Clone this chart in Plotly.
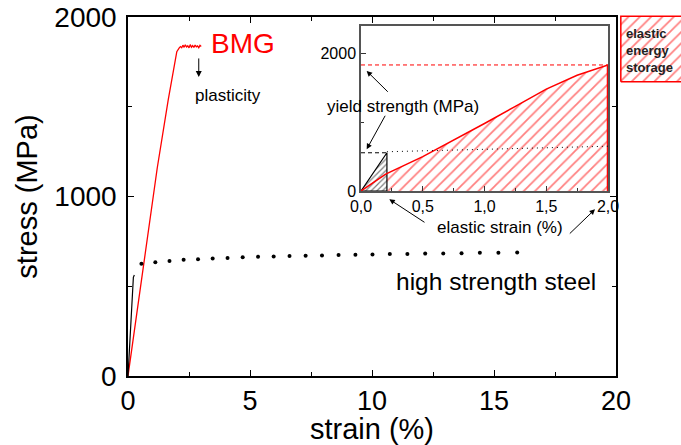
import plotly.graph_objects as go

FONT = "Liberation Sans, Arial, sans-serif"

# ---- main plot data ----
bmg_strain = [0, 0.78, 1.2, 1.65, 1.86, 2.0, 2.1, 2.15, 2.2, 2.25, 2.3, 2.35, 2.4, 2.45, 2.5, 2.55, 2.6, 2.65, 2.7, 2.75, 2.8, 2.85, 2.9, 2.95, 3.0]
bmg_stress = [0, 760, 1160, 1540, 1705, 1807, 1828, 1835, 1829, 1843, 1831, 1845, 1833, 1840, 1828, 1846, 1832, 1841, 1830, 1844, 1834, 1839, 1829, 1842, 1836]

steel_el_strain = [0, 0.22, 0.26]
steel_el_stress = [0, 550, 562]

steel_strain = [0.55, 1.12, 1.70, 2.28, 2.87, 3.47, 4.08, 4.70, 5.33, 5.97, 6.62, 7.28, 7.95, 8.63, 9.32, 10.02, 10.73, 11.45, 12.18, 12.92, 13.67, 14.42, 15.18, 15.95]
steel_stress = [625, 634, 641, 647, 651, 655, 658, 661, 664, 666, 668, 670, 672, 674, 676, 677, 679, 680, 682, 683, 684, 686, 687, 688]

# ---- inset data ----
in_bmg_strain = [0, 0.1, 0.2, 0.5, 0.75, 1.0, 1.25, 1.5, 1.75, 1.9, 2.0]
in_bmg_stress = [0, 125, 245, 500, 735, 980, 1230, 1480, 1680, 1770, 1830]
bmg_yield = 1830
bmg_elastic_limit = 2.0

steel_yield = 555
steel_elastic_limit = 0.21
in_steel_plastic_strain = [0.21, 2.0]
in_steel_plastic_stress = [570, 650]

x_ticks_main = [0, 5, 10, 15, 20]
y_ticks_main = [0, 1000, 2000]
x_ticks_in = [0, 0.5, 1.0, 1.5, 2.0]
x_ticktext_in = ["0,0", "0,5", "1,0", "1,5", "2,0"]
y_ticks_in = [0, 2000]

fig = go.Figure()

# main curves
fig.add_trace(go.Scatter(x=bmg_strain, y=bmg_stress, mode="lines",
                         line=dict(color="red", width=1.3), xaxis="x", yaxis="y"))
fig.add_trace(go.Scatter(x=steel_el_strain, y=steel_el_stress, mode="lines",
                         line=dict(color="black", width=1.2), xaxis="x", yaxis="y"))
fig.add_trace(go.Scatter(x=steel_strain, y=steel_stress, mode="markers",
                         marker=dict(color="black", size=4), xaxis="x", yaxis="y"))

HATCH_RED = dict(shape="/", fgcolor="red", bgcolor="white", size=8, solidity=0.22)

# inset: red hatched area
fig.add_trace(go.Scatter(x=in_bmg_strain, y=in_bmg_stress, mode="lines",
                         line=dict(color="red", width=0), fill="tozeroy",
                         fillcolor="rgba(0,0,0,0)", fillpattern=HATCH_RED,
                         xaxis="x2", yaxis="y2"))
# inset: black hatched triangle
fig.add_trace(go.Scatter(x=[0, steel_elastic_limit, steel_elastic_limit, 0],
                         y=[0, steel_yield, 0, 0], mode="lines",
                         line=dict(color="black", width=1.2), fill="toself",
                         fillcolor="rgba(0,0,0,0)",
                         fillpattern=dict(shape="/", fgcolor="black", bgcolor="white",
                                          size=4, solidity=0.3),
                         xaxis="x2", yaxis="y2"))
fig.add_trace(go.Scatter(x=in_bmg_strain, y=in_bmg_stress, mode="lines",
                         line=dict(color="red", width=1.5), xaxis="x2", yaxis="y2"))
fig.add_trace(go.Scatter(x=[bmg_elastic_limit, bmg_elastic_limit], y=[0, bmg_yield], mode="lines",
                         line=dict(color="red", width=2.5), xaxis="x2", yaxis="y2"))
fig.add_trace(go.Scatter(x=[0, bmg_elastic_limit], y=[bmg_yield, bmg_yield], mode="lines",
                         line=dict(color="red", width=1, dash="4px,3px"), xaxis="x2", yaxis="y2"))
fig.add_trace(go.Scatter(x=[0, steel_elastic_limit], y=[steel_yield, steel_yield], mode="lines",
                         line=dict(color="black", width=1, dash="4px,3px"), xaxis="x2", yaxis="y2"))
fig.add_trace(go.Scatter(x=in_steel_plastic_strain, y=in_steel_plastic_stress, mode="lines",
                         line=dict(color="black", width=1, dash="1px,4px"), xaxis="x2", yaxis="y2"))

# legend-like hatched box
fig.add_trace(go.Scatter(x=[0, 2, 2, 0, 0], y=[0, 0, 1, 1, 0], mode="lines",
                         line=dict(color="red", width=1.5), fill="toself",
                         fillcolor="rgba(0,0,0,0)", fillpattern=HATCH_RED,
                         xaxis="x3", yaxis="y3"))

in_font = dict(family=FONT, size=16, color="black")

fig.update_layout(
    width=681, height=445,
    margin=dict(l=128, r=0, t=15, b=69),
    paper_bgcolor="white", plot_bgcolor="white",
    showlegend=False,
    font=dict(family=FONT, color="black"),
    xaxis=dict(domain=[0, 0.88246], range=[0, 20], tickvals=x_ticks_main, automargin=False,
               ticks="inside", ticklen=6, tickwidth=1.2, tickcolor="black",
               minor=dict(dtick=2.5, ticks="inside", ticklen=4, tickcolor="black"),
               showline=True, linecolor="black", linewidth=1.5, mirror="allticks",
               showgrid=False, zeroline=False, tickfont=dict(family=FONT, size=27, color="black"),
               title=dict(text="strain (%)", font=dict(family=FONT, size=29), standoff=0)),
    yaxis=dict(domain=[0, 0.99446], range=[0, 2000], tickvals=y_ticks_main, automargin=False,
               ticks="inside", ticklen=6, tickwidth=1.2, tickcolor="black",
               minor=dict(dtick=500, ticks="inside", ticklen=4, tickcolor="black"),
               showline=True, linecolor="black", linewidth=1.5, mirror="allticks",
               showgrid=False, zeroline=False, tickfont=dict(family=FONT, size=28, color="black"),
               ticklabelstandoff=4,
               title=dict(text="stress (MPa)", font=dict(family=FONT, size=29), standoff=8)),
    xaxis2=dict(domain=[0.42134, 0.86799], range=[0, 2.0], anchor="y2", automargin=False,
                tickvals=x_ticks_in, ticktext=x_ticktext_in,
                ticks="inside", ticklen=5, tickcolor="#333",
                minor=dict(dtick=0.25, ticks="inside", ticklen=3, tickcolor="#333"),
                showline=True, linecolor="#555", linewidth=1.5, mirror=True,
                showgrid=False, zeroline=False, tickfont=in_font),
    yaxis2=dict(domain=[0.51247, 0.97036], range=[0, 2400], anchor="x2", automargin=False,
                tickvals=y_ticks_in,
                ticks="inside", ticklen=5, tickcolor="#333",
                minor=dict(dtick=1000, ticks="inside", ticklen=3, tickcolor="#333"),
                showline=True, linecolor="#555", linewidth=1.5, mirror=True,
                showgrid=False, zeroline=False, tickfont=in_font),
    xaxis3=dict(domain=[0.8879, 1.0], range=[-0.03, 1], anchor="y3", visible=False, fixedrange=True),
    yaxis3=dict(domain=[0.8116, 1.0], range=[-0.02, 1.02], anchor="x3", visible=False, fixedrange=True),
)

ann = []
ann.append(dict(x=4.71, y=1855, xref="x", yref="y", text="BMG", showarrow=False,
                font=dict(family=FONT, size=28, color="red")))
ann.append(dict(x=4.1, y=1565, xref="x", yref="y", text="plasticity", showarrow=False,
                font=dict(family=FONT, size=17, color="black")))
ann.append(dict(x=2.9, y=1666, xref="x", yref="y", text="", showarrow=True, ax=0, ay=-20,
                arrowhead=2, arrowsize=1.2, arrowwidth=1, arrowcolor="black"))
ann.append(dict(x=15.08, y=524, xref="x", yref="y", text="high strength steel", showarrow=False,
                font=dict(family=FONT, size=24.5, color="black")))
ann.append(dict(x=0.344, y=1220, xref="x2", yref="y2", text="yield strength (MPa)", showarrow=False,
                font=dict(family=FONT, size=17, color="black")))
ann.append(dict(x=0.6727, y=0.41, xref="paper", yref="paper", xanchor="center", yanchor="middle",
                text="elastic strain (%)",
                showarrow=False, font=dict(family=FONT, size=17, color="black")))
for hx, hy, tx, ty in [(0.046, 1743, 22.6, 22.3), (0.046, 606, 19.3, -35)]:
    ann.append(dict(x=hx, y=hy, xref="x2", yref="y2", text="", showarrow=True, ax=tx, ay=ty,
                    arrowhead=2, arrowsize=1.1, arrowwidth=1, arrowcolor="black"))
for hx, hy, tx, ty in [(0.4725, 0.4895, 36.7, 24), (0.8445, 0.4618, -26.7, 25.7)]:
    ann.append(dict(x=hx, y=hy, xref="paper", yref="paper", text="", showarrow=True, ax=tx, ay=ty,
                    arrowhead=2, arrowsize=1.1, arrowwidth=1, arrowcolor="black"))
ann.append(dict(x=0.8969, y=0.903, xref="paper", yref="paper", xanchor="left", yanchor="middle",
                text="<b>elastic<br>energy<br>storage</b>", showarrow=False, align="left",
                font=dict(family=FONT, size=13, color="#222")))
fig.update_layout(annotations=ann)

fig.write_html("out.html", config={"displayModeBar": False},
               post_script="document.body.style.margin='0px';document.body.style.overflow='hidden';")
